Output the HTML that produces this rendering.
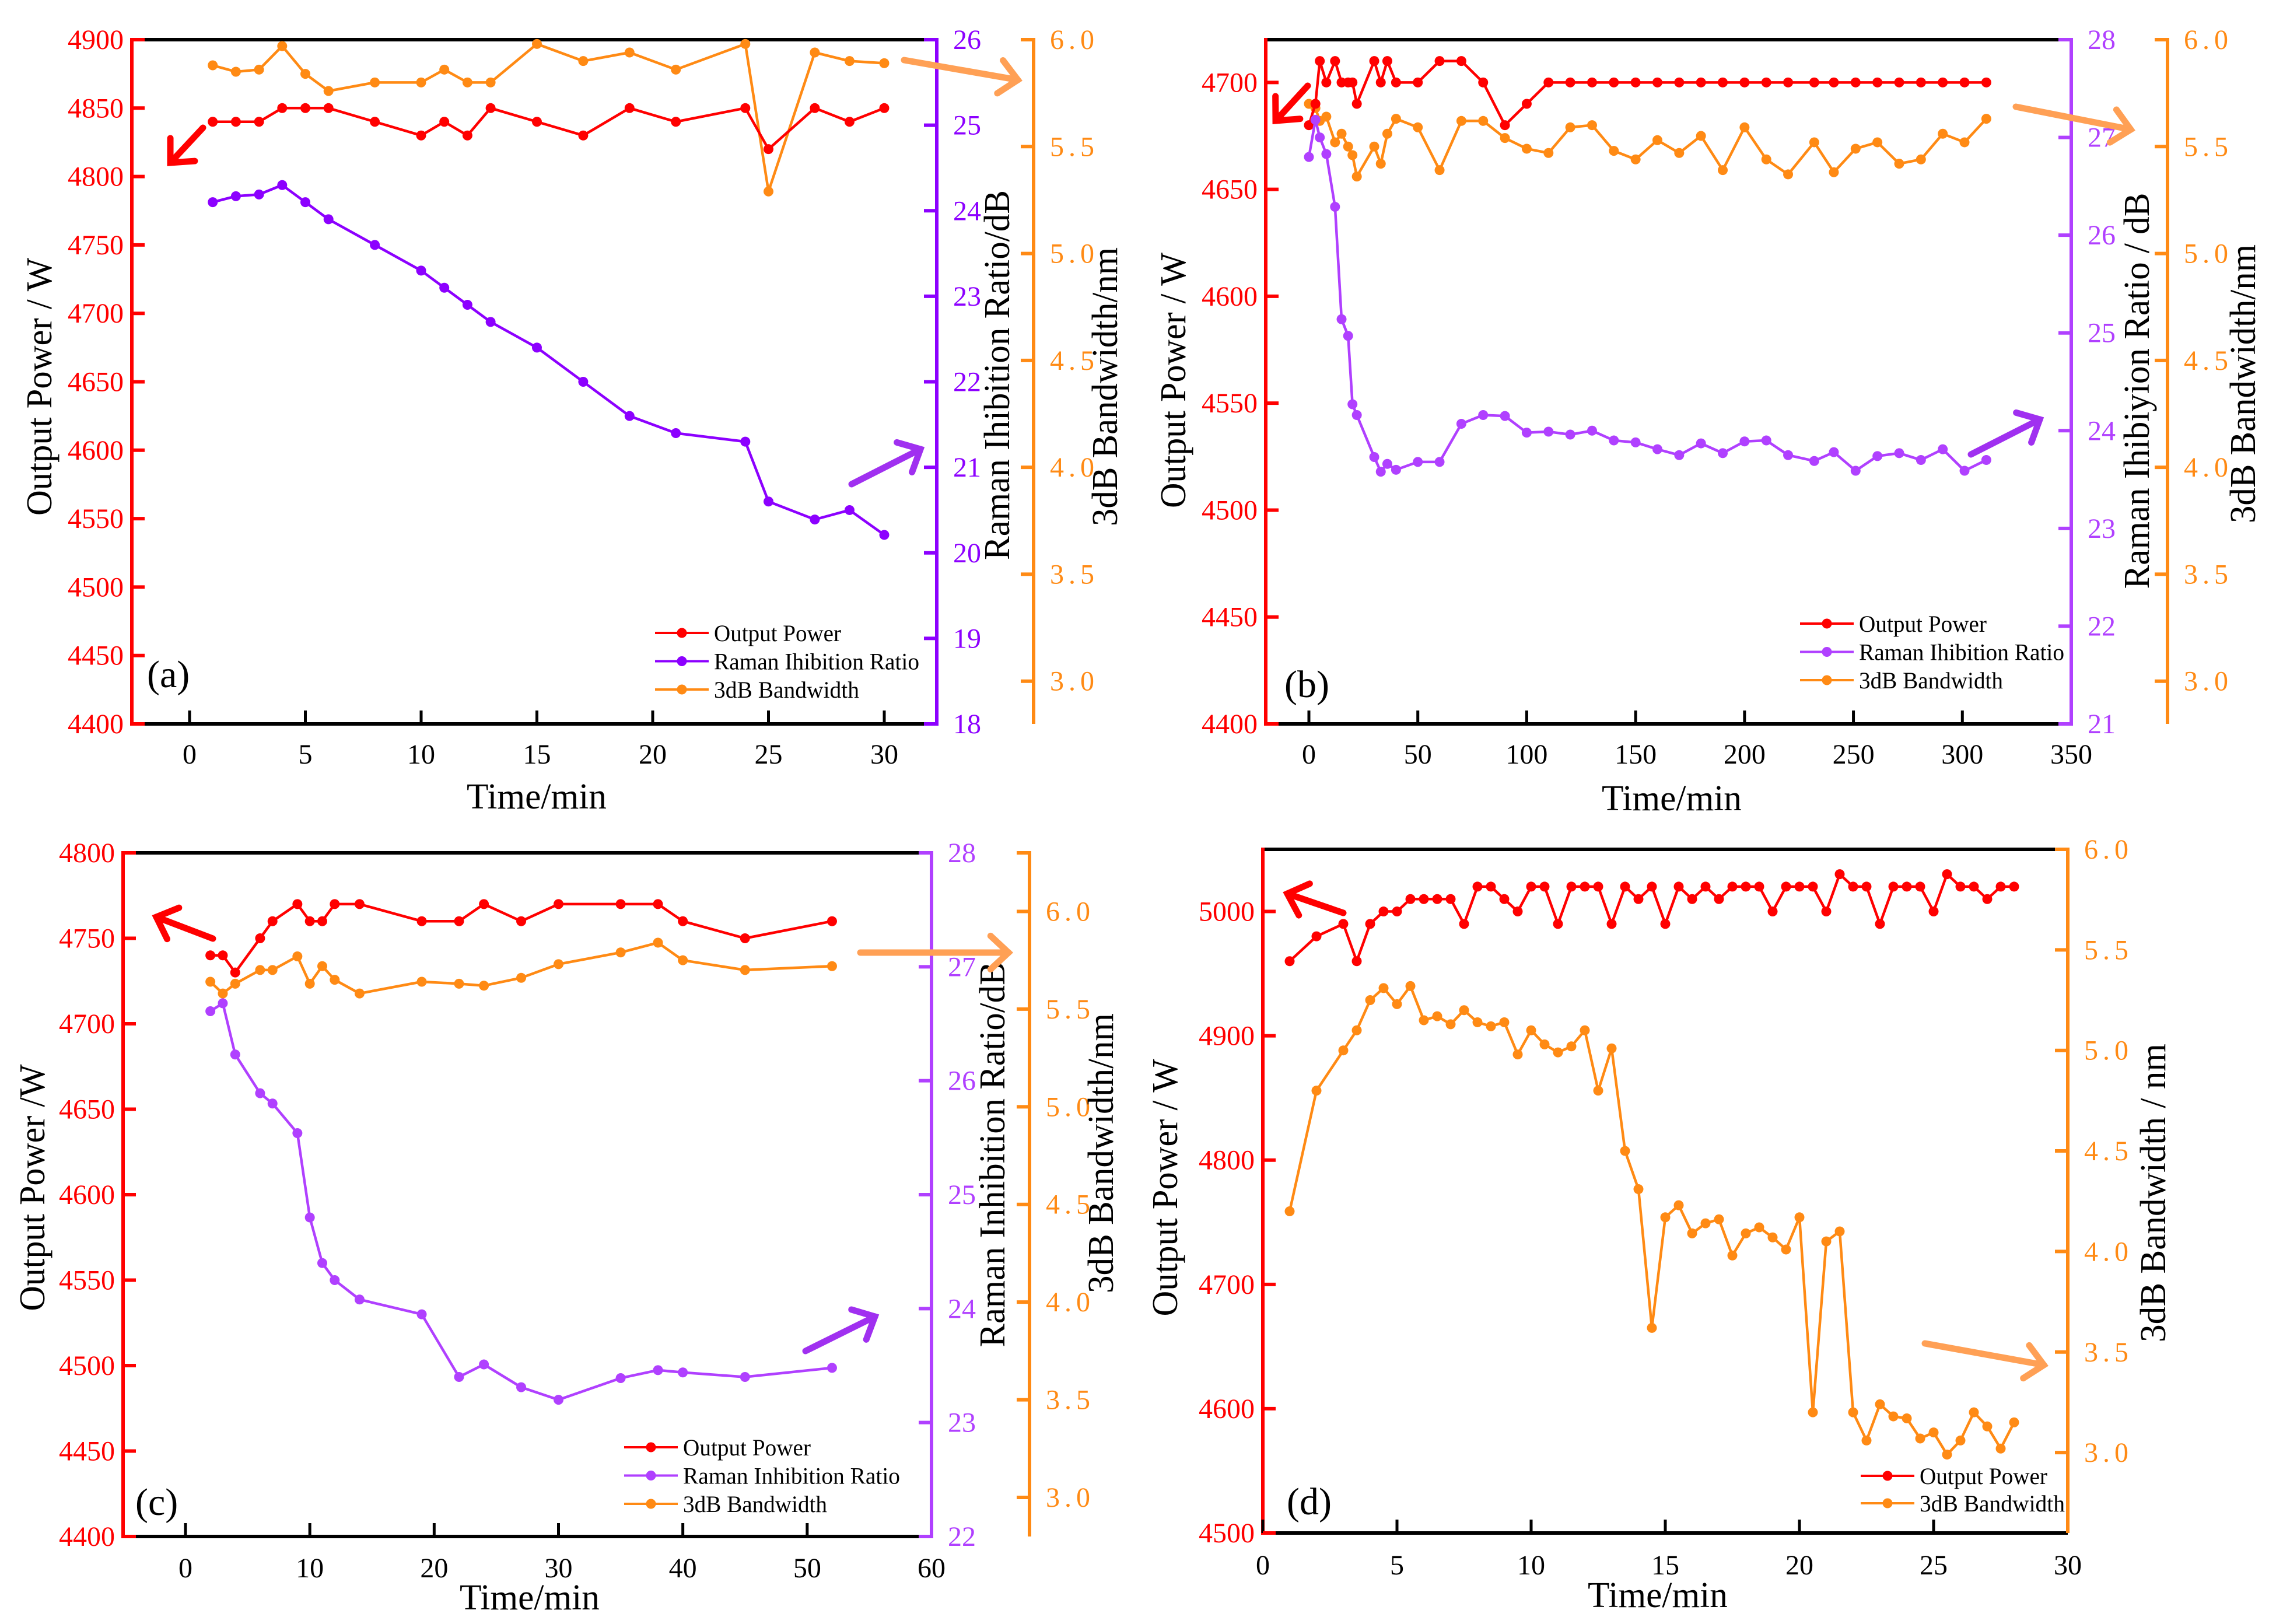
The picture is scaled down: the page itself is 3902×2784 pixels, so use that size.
<!DOCTYPE html>
<html><head><meta charset="utf-8"><style>
html,body{margin:0;padding:0;background:#fff}
svg{display:block;font-family:"Liberation Serif",serif}
text{font-family:"Liberation Serif",serif}
</style></head><body>
<svg id="chart" width="3902" height="2784" viewBox="0 0 3902 2784" xmlns="http://www.w3.org/2000/svg" font-family="Liberation Serif, serif"></svg>
<script>
// ---- Panel (a) data ----
const aTime = [1,2,3,4,5,6,8,10,11,12,13,15,17,19,21,24,25,27,28.5,30];
const aPower = [4840,4840,4840,4850,4850,4850,4840,4830,4840,4830,4850,4840,4830,4850,4840,4850,4820,4850,4840,4850];
const aRaman = [24.10,24.17,24.19,24.30,24.10,23.90,23.60,23.30,23.10,22.90,22.70,22.40,22.00,21.60,21.40,21.30,20.60,20.39,20.50,20.21];
const aBand = [5.88,5.85,5.86,5.97,5.84,5.76,5.80,5.80,5.86,5.80,5.80,5.98,5.90,5.94,5.86,5.98,5.29,5.94,5.90,5.89];
// ---- Panel (b) data ----
const bTime = [0,3,5,8,12,15,18,20,22,30,33,36,40,50,60,70,80,90,100,110,120,130,140,150,160,170,180,190,200,210,220,232,241,251,261,271,281,291,301,311];
const bPower = [4680,4690,4710,4700,4710,4700,4700,4700,4690,4710,4700,4710,4700,4700,4710,4710,4700,4680,4690,4700,4700,4700,4700,4700,4700,4700,4700,4700,4700,4700,4700,4700,4700,4700,4700,4700,4700,4700,4700,4700];
const bRaman = [26.80,27.18,27.00,26.83,26.29,25.14,24.97,24.27,24.16,23.73,23.58,23.66,23.60,23.68,23.68,24.07,24.16,24.15,23.98,23.99,23.96,24.00,23.90,23.88,23.81,23.75,23.87,23.77,23.89,23.90,23.75,23.69,23.78,23.59,23.74,23.77,23.70,23.81,23.59,23.70];
const bBand = [5.70,5.68,5.62,5.64,5.52,5.56,5.50,5.46,5.36,5.50,5.42,5.56,5.63,5.59,5.39,5.62,5.62,5.54,5.49,5.47,5.59,5.60,5.48,5.44,5.53,5.47,5.55,5.39,5.59,5.44,5.37,5.52,5.38,5.49,5.52,5.42,5.44,5.56,5.52,5.63];
// ---- Panel (c) data ----
const cTime = [2,3,4,6,7,9,10,11,12,14,19,22,24,27,30,35,38,40,45,52];
const cPower = [4740,4740,4730,4750,4760,4770,4760,4760,4770,4770,4760,4760,4770,4760,4770,4770,4770,4760,4750,4760];
const cRaman = [26.61,26.68,26.23,25.89,25.80,25.54,24.80,24.40,24.25,24.08,23.95,23.40,23.51,23.31,23.20,23.39,23.46,23.44,23.40,23.48];
const cBand = [5.64,5.58,5.63,5.70,5.70,5.77,5.63,5.72,5.65,5.58,5.64,5.63,5.62,5.66,5.73,5.79,5.84,5.75,5.70,5.72];
// ---- Panel (d) data ----
const dTime = [1,2,3,3.5,4,4.5,5,5.5,6,6.5,7,7.5,8,8.5,9,9.5,10,10.5,11,11.5,12,12.5,13,13.5,14,14.5,15,15.5,16,16.5,17,17.5,18,18.5,19,19.5,20,20.5,21,21.5,22,22.5,23,23.5,24,24.5,25,25.5,26,26.5,27,27.5,28];
const dPower = [4960,4980,4990,4960,4990,5000,5000,5010,5010,5010,5010,4990,5020,5020,5010,5000,5020,5020,4990,5020,5020,5020,4990,5020,5010,5020,4990,5020,5010,5020,5010,5020,5020,5020,5000,5020,5020,5020,5000,5030,5020,5020,4990,5020,5020,5020,5000,5030,5020,5020,5010,5020,5020];
const dBand = [4.20,4.80,5.00,5.10,5.25,5.31,5.23,5.32,5.15,5.17,5.13,5.20,5.14,5.12,5.14,4.98,5.10,5.03,4.99,5.02,5.10,4.80,5.01,4.50,4.31,3.62,4.17,4.23,4.09,4.14,4.16,3.98,4.09,4.12,4.07,4.01,4.17,3.20,4.05,4.10,3.20,3.06,3.24,3.18,3.17,3.07,3.10,2.99,3.06,3.20,3.13,3.02,3.15];
// ---- Tick label arrays ----
const aXTicks = [0,5,10,15,20,25,30];
const bXTicks = [0,50,100,150,200,250,300,350];
const cXTicks = [0,10,20,30,40,50,60];
const dXTicks = [0,5,10,15,20,25,30];
const aPowTicks = [4400,4450,4500,4550,4600,4650,4700,4750,4800,4850,4900];
const bPowTicks = [4400,4450,4500,4550,4600,4650,4700];
const cPowTicks = [4400,4450,4500,4550,4600,4650,4700,4750,4800];
const dPowTicks = [4500,4600,4700,4800,4900,5000];
const aRamTicks = [18,19,20,21,22,23,24,25,26];
const bRamTicks = [21,22,23,24,25,26,27,28];
const cRamTicks = [22,23,24,25,26,27,28];
const bandTicks = [3.0,3.5,4.0,4.5,5.0,5.5,6.0];

const NS='http://www.w3.org/2000/svg';
const svg=document.getElementById('chart');
const RED='#ff0000', ORG='#ff8a14', ARW='#ffa055';
function el(tag,parent){const e=document.createElementNS(NS,tag);parent.appendChild(e);return e;}
function lin(d0,d1,r0,r1){return v=>r0+(v-d0)*(r1-r0)/(d1-d0);}
function line(p,x1,y1,x2,y2,col,w,name){const l=el('line',p);l.setAttribute('x1',x1);l.setAttribute('y1',y1);l.setAttribute('x2',x2);l.setAttribute('y2',y2);l.setAttribute('stroke',col);l.setAttribute('stroke-width',w);


return l;}
function text(p,x,y,s,opts,name){const t=el('text',p);t.setAttribute('x',x);t.setAttribute('y',y);t.textContent=s;t.setAttribute('font-family','Liberation Serif, serif');t.setAttribute('font-size',opts.size||48);t.setAttribute('fill',opts.fill||'#000');if(opts.anchor)t.setAttribute('text-anchor',opts.anchor);if(opts.len){t.setAttribute('textLength',opts.len);t.setAttribute('lengthAdjust','spacingAndGlyphs');}if(opts.rot)t.setAttribute('transform','rotate(-90 '+x+' '+y+')');if(opts.ls)t.setAttribute('letter-spacing',opts.ls);


return t;}
function series(p,xs,ys,sx,sy,col,name){
 const g=el('g',p);
 
 
 const pl=el('polyline',g);
 pl.setAttribute('points',xs.map((x,i)=>sx(x)+','+sy(ys[i])).join(' '));
 pl.setAttribute('fill','none');pl.setAttribute('stroke',col);pl.setAttribute('stroke-width',4.5);pl.setAttribute('stroke-linejoin','round');
 
 
 xs.forEach((x,i)=>{const c=el('circle',g);c.setAttribute('cx',sx(x));c.setAttribute('cy',sy(ys[i]));c.setAttribute('r',8.5);c.setAttribute('fill',col);
  
  
 });
}
function arrow(p,x1,y1,x2,y2,col,name){
 const g=el('g',p);
 
 
 const a=Math.atan2(y2-y1,x2-x1),L=42,sp=0.75;
 const pts=[[x2-L*Math.cos(a-sp),y2-L*Math.sin(a-sp)],[x2,y2],[x2-L*Math.cos(a+sp),y2-L*Math.sin(a+sp)]];
 const s=el('line',g);s.setAttribute('x1',x1);s.setAttribute('y1',y1);s.setAttribute('x2',x2);s.setAttribute('y2',y2);
 s.setAttribute('stroke',col);s.setAttribute('stroke-width',11);s.setAttribute('stroke-linecap','round');
 const h=el('polyline',g);h.setAttribute('points',pts.map(q=>q.join(',')).join(' '));h.setAttribute('fill','none');h.setAttribute('stroke',col);h.setAttribute('stroke-width',11);h.setAttribute('stroke-linecap','round');h.setAttribute('stroke-linejoin','miter');
}
function legend(p,x,y0,dy,items,lens,name){
 const g=el('g',p);
 
 
 items.forEach((it,i)=>{const y=y0+i*dy;
  line(g,x,y,x+92,y,it[1],4,'legend-line');
  const c=el('circle',g);c.setAttribute('cx',x+46);c.setAttribute('cy',y);c.setAttribute('r',8.5);c.setAttribute('fill',it[1]);
  
  
  text(g,x+101,y+14,it[0],{size:40,len:lens[i]},'legend-entry');
 });
}
function fmtB(v){return v.toFixed(1);}

function panel(cfg){
 const g=el('g',svg);
 
 
 const sx=lin(cfg.xd[0],cfg.xd[1],cfg.xr[0],cfg.xr[1]);
 const sp=lin(cfg.pd[0],cfg.pd[1],cfg.bot,cfg.top);
 const sb=lin(cfg.bd[0],cfg.bd[1],cfg.bot,cfg.top);
 const sr=cfg.rd?lin(cfg.rd[0],cfg.rd[1],cfg.bot,cfg.top):null;
 const rightEdge=cfg.purX||cfg.orgX;
 line(g,cfg.left,cfg.top,rightEdge,cfg.top,'#000',6,'top-border');
 line(g,cfg.left,cfg.bot,rightEdge,cfg.bot,'#000',6,'x-axis-line');
 line(g,cfg.left,cfg.top-3,cfg.left,cfg.bot+3,RED,6,'power-axis-line');
 cfg.xt.forEach(v=>{const x=sx(v);line(g,x,cfg.bot,x,cfg.bot-23,'#000',5,'x-tick');text(g,x,cfg.xlabY,String(v),{size:48,anchor:'middle'},'x-tick-label');});
 cfg.pt.forEach(v=>{const y=sp(v);line(g,cfg.left,y,cfg.left+22,y,RED,6,'power-tick');text(g,cfg.left-14,y+16,String(v),{size:48,fill:RED,anchor:'end'},'power-tick-label');});
 if(cfg.purX){line(g,cfg.purX,cfg.top-3,cfg.purX,cfg.bot+3,cfg.pc,6,'raman-axis-line');
  cfg.rt.forEach(v=>{const y=sr(v);line(g,cfg.purX-22,y,cfg.purX,y,cfg.pc,6,'raman-tick');text(g,cfg.purX+28,y+16,String(v),{size:48,fill:cfg.pc},'raman-tick-label');});}
 line(g,cfg.orgX,cfg.top-3,cfg.orgX,cfg.bot,ORG,6,'bandwidth-axis-line');
 if(cfg.purX)line(g,cfg.orgX-22,cfg.top,cfg.orgX,cfg.top,ORG,6,'bandwidth-axis-cap');
 bandTicks.forEach(v=>{const y=sb(v);line(g,cfg.orgX-22,y,cfg.orgX,y,ORG,6,'bandwidth-tick');text(g,cfg.orgX+28,y+16,fmtB(v),{size:48,fill:ORG,ls:8},'bandwidth-tick-label');});
 series(g,cfg.t,cfg.band,sx,sb,ORG,'bandwidth-series');
 series(g,cfg.t,cfg.pow,sx,sp,RED,'power-series');
 if(cfg.ram)series(g,cfg.t,cfg.ram,sx,sr,cfg.pc,'raman-series');
 text(g,cfg.ptX,cfg.ptY,'Output Power'+cfg.pUnit,{size:62,anchor:'middle',rot:1,len:cfg.ptL},'power-axis-title');
 if(cfg.purX)text(g,cfg.rtX,cfg.rtY,cfg.rtS,{size:62,anchor:'middle',rot:1,len:cfg.rtL},'raman-axis-title');
 text(g,cfg.btX,cfg.btY,cfg.btS,{size:62,anchor:'middle',rot:1,len:cfg.btL},'bandwidth-axis-title');
 text(g,cfg.ttX,cfg.ttY,'Time/min',{size:62,anchor:'middle',len:240},'x-axis-title');
 text(g,cfg.lblX,cfg.lblY,cfg.lbl,{size:66},'panel-label');
 return g;
}

const ga=panel({name:'panel-a',left:226,top:68,bot:1241,xd:[0,30],xr:[325,1516],purX:1606,orgX:1772,pc:'#8c00ff',
 pd:[4400,4900],rd:[18,26],bd:[2.8,6.0],xt:aXTicks,pt:aPowTicks,rt:aRamTicks,xlabY:1309,
 t:aTime,pow:aPower,ram:aRaman,band:aBand,
 ptX:88,ptY:663,ptL:442,pUnit:' / W',rtX:1730,rtY:643,rtS:'Raman Ihibition Ratio/dB',rtL:634,
 btX:1915,btY:663,btS:'3dB Bandwidth/nm',btL:478,ttX:920,ttY:1386,lbl:'(a)',lblX:252,lblY:1178});
const gb=panel({name:'panel-b',left:2170,top:68,bot:1241,xd:[0,350],xr:[2244,3551],purX:3551,orgX:3716,pc:'#b040ff',
 pd:[4400,4720],rd:[21,28],bd:[2.8,6.0],xt:bXTicks,pt:bPowTicks,rt:bRamTicks,xlabY:1309,
 t:bTime,pow:bPower,ram:bRaman,band:bBand,
 ptX:2032,ptY:652,ptL:438,pUnit:' / W',rtX:3684,rtY:670,rtS:'Raman Ihibiyion Ratio / dB',rtL:679,
 btX:3866,btY:658,btS:'3dB Bandwidth/nm',btL:478,ttX:2866,ttY:1389,lbl:'(b)',lblX:2202,lblY:1195});
const gc=panel({name:'panel-c',left:211,top:1462,bot:2634,xd:[0,60],xr:[318,1597],purX:1597,orgX:1765,pc:'#b040ff',
 pd:[4400,4800],rd:[22,28],bd:[2.8,6.3],xt:cXTicks,pt:cPowTicks,rt:cRamTicks,xlabY:2704,
 t:cTime,pow:cPower,ram:cRaman,band:cBand,
 ptX:76,ptY:2036,ptL:423,pUnit:' /W',rtX:1722,rtY:1979,rtS:'Raman Inhibition Ratio/dB',rtL:661,
 btX:1908,btY:1977,btS:'3dB Bandwidth/nm',btL:480,ttX:908,ttY:2759,lbl:'(c)',lblX:232,lblY:2597});
const gd=panel({name:'panel-d',left:2165,top:1456,bot:2628,xd:[0,30],xr:[2165,3545],purX:0,orgX:3545,pc:'#b040ff',
 pd:[4500,5050],bd:[2.6,6.0],xt:dXTicks,pt:dPowTicks,xlabY:2699,
 t:dTime,pow:dPower,band:dBand,
 ptX:2018,ptY:2036,ptL:441,pUnit:' / W',
 btX:3712,btY:2045,btS:'3dB Bandwidth / nm',btL:512,ttX:2842,ttY:2755,lbl:'(d)',lblX:2206,lblY:2596});

arrow(ga,348,219,292,279,RED,'power-arrow');
arrow(ga,1550,103,1745,137,ARW,'bandwidth-arrow');
arrow(ga,1460,830,1578,770,'#a030f0','raman-arrow');
arrow(gb,2242,147,2187,207,RED,'power-arrow');
arrow(gb,3456,183,3653,222,ARW,'bandwidth-arrow');
arrow(gb,3379,779,3497,719,'#a030f0','raman-arrow');
arrow(gc,365,1609,268,1572,RED,'power-arrow');
arrow(gc,1475,1633,1729,1633,ARW,'bandwidth-arrow');
arrow(gc,1381,2316,1500,2257,'#a030f0','raman-arrow');
arrow(gd,2303,1565,2207,1532,RED,'power-arrow');
arrow(gd,3300,2303,3504,2340,ARW,'bandwidth-arrow');

legend(ga,1123,1085,48.5,[['Output Power',RED],['Raman Ihibition Ratio','#8c00ff'],['3dB Bandwidth',ORG]],[218,352,249],'legend');
legend(gb,3086,1069,48.5,[['Output Power',RED],['Raman Ihibition Ratio','#b040ff'],['3dB Bandwidth',ORG]],[219,352,247],'legend');
legend(gc,1070,2481,48.5,[['Output Power',RED],['Raman Inhibition Ratio','#b040ff'],['3dB Bandwidth',ORG]],[219,372,247],'legend');
legend(gd,3190,2530,47,[['Output Power',RED],['3dB Bandwidth',ORG]],[219,249],'legend');
</script>
</body></html>
